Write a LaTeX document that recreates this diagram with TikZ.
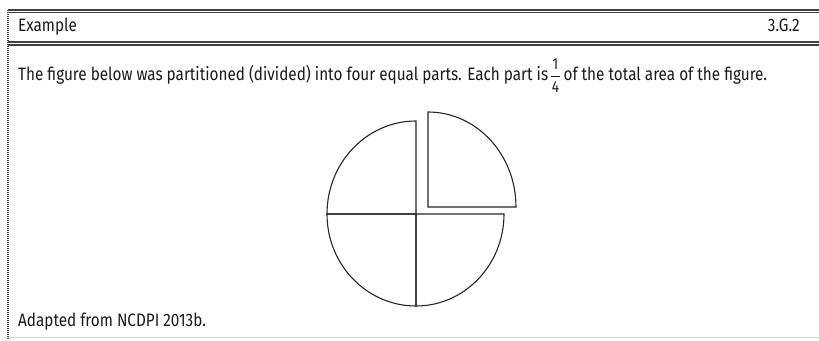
\documentclass[tikz,border=0pt]{standalone}
\usepackage{fontspec}
\setmainfont{Fira Sans}[FakeStretch=0.85]
\newcommand{\mainsize}{\fontsize{18}{21}\selectfont}
\newcommand{\fracdig}[1]{\hbox{\fontsize{16}{16}\selectfont\hspace{1pt}#1\hspace{1pt}}}
\begin{document}
\begin{tikzpicture}[x=1pt,y=1pt,
  rule/.style={line width=1.3pt,draw=black!75},
  piece/.style={line width=1.1pt,draw=black!85,line join=miter},
  txt/.style={inner sep=0pt,font=\mainsize,text=black!90}]
\useasboundingbox (0,0) rectangle (819,340);
% header rules
\draw[rule] (8,330) -- (819,330);
\draw[rule] (8,327.2) -- (819,327.2);
\draw[rule] (8,298) -- (819,298);
\draw[rule] (8,295) -- (819,295);
\draw[black!70,line width=1.2pt,dash pattern=on 1pt off 1pt] (8,330) -- (8,0);
\draw[black!15,line width=0.6pt] (8,2.5) -- (819,2.5);
% texts
\node[txt,anchor=base west] (ex) at (18,308) {Example};
\node[txt,anchor=base east] (code) at (800,308) {3.G.2};
\node[txt,anchor=base west] (s1) at (18,259) {The figure below was partitioned (divided) into four equal parts. Each part is};
\node[txt,anchor=base west] (frac) at ([xshift=1pt]s1.base east) {$\displaystyle\frac{\fracdig{1}}{\fracdig{4}}$};
\node[txt,anchor=base west] (s2) at ([xshift=2pt]frac.base east) {of the total area of the figure.};
\node[txt,anchor=base west] (src) at (18,13) {Adapted from NCDPI 2013b.};
% circle pieces
\coordinate (c) at (416,126);
\draw[piece] (c) -- ++(0,93) arc[start angle=90,end angle=180,x radius=89,y radius=93] -- cycle;
\draw[piece] (c) -- ++(-89,0) arc[start angle=180,end angle=270,x radius=89,y radius=92] -- cycle;
\draw[piece] (c) -- ++(0,-92) arc[start angle=270,end angle=360,x radius=88,y radius=92] -- cycle;
\coordinate (d) at (428,133);
\draw[piece] (d) -- ++(88,0) arc[start angle=0,end angle=90,x radius=88,y radius=95] -- cycle;
\end{tikzpicture}
\end{document}
